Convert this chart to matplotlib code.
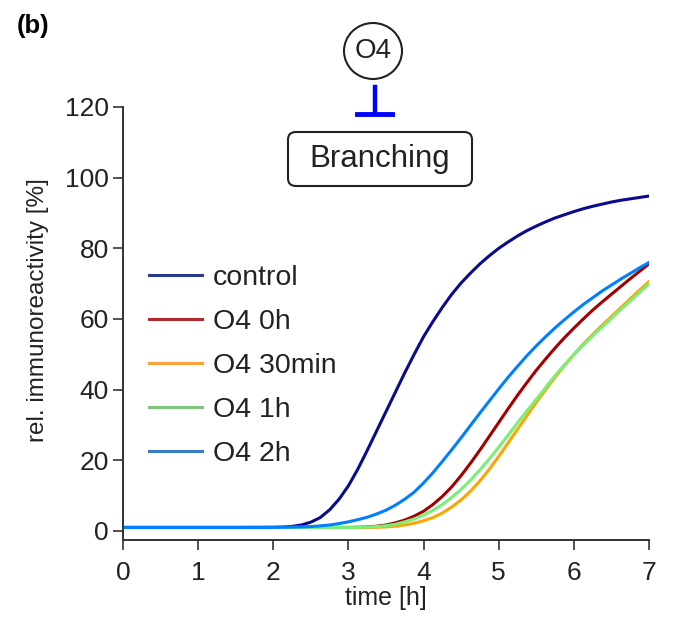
import numpy as np
import matplotlib
matplotlib.use('Agg')
import matplotlib.pyplot as plt
from matplotlib.lines import Line2D
from matplotlib.patches import Ellipse, FancyBboxPatch

plt.rcParams['font.family'] = ['Liberation Sans', 'DejaVu Sans']

# time grid [h]: flat part, then every 7.5 min from 2 h on
t = [0, 0.5, 1.0, 1.5, 2.0, 2.125, 2.25, 2.375, 2.5, 2.625, 2.75, 2.875,
     3.0, 3.125, 3.25, 3.375, 3.5, 3.625, 3.75, 3.875,
     4.0, 4.125, 4.25, 4.375, 4.5, 4.625, 4.75, 4.875,
     5.0, 5.125, 5.25, 5.375, 5.5, 5.625, 5.75, 5.875,
     6.0, 6.125, 6.25, 6.375, 6.5, 6.625, 6.75, 6.875, 7.0]

control = [1.0, 1.0, 1.0, 1.0, 1.05, 1.1, 1.3, 1.7, 2.5, 3.8, 6.0, 9.0,
           12.8, 17.5, 22.8, 28.3, 33.8, 39.3, 44.8, 50.0,
           55.0, 59.3, 63.3, 67.0, 70.2, 73.0, 75.6, 77.9,
           80.0, 81.8, 83.5, 85.0, 86.3, 87.5, 88.6, 89.5,
           90.4, 91.2, 91.9, 92.5, 93.1, 93.6, 94.0, 94.4, 94.8]
o4_0h = [1.0, 1.0, 1.0, 1.0, 1.0, 1.0, 1.0, 1.0, 1.0, 1.0, 1.0, 1.0,
         1.0, 1.05, 1.15, 1.35, 1.7, 2.3, 3.1, 4.2,
         5.6, 7.5, 9.8, 12.5, 15.7, 19.2, 22.9, 26.8,
         30.7, 34.6, 38.4, 42.0, 45.5, 48.7, 51.8, 54.7,
         57.4, 60.0, 62.5, 64.8, 67.0, 69.2, 71.4, 73.5, 75.6]
o4_30min = [1.0, 1.0, 1.0, 1.0, 1.0, 1.0, 1.0, 1.0, 1.0, 1.0, 1.0, 1.0,
            1.0, 1.0, 1.0, 1.05, 1.15, 1.35, 1.7, 2.2,
            2.9, 3.8, 5.1, 6.8, 8.8, 11.3, 14.2, 17.5,
            21.1, 24.9, 28.8, 32.6, 36.4, 40.0, 43.5, 46.8,
            50.0, 52.9, 55.6, 58.2, 60.7, 63.2, 65.7, 68.2, 70.6]
o4_1h = [1.0, 1.0, 1.0, 1.0, 1.0, 1.0, 1.0, 1.0, 1.0, 1.0, 1.0, 1.0,
         1.0, 1.05, 1.1, 1.25, 1.5, 1.9, 2.6, 3.4,
         4.5, 5.8, 7.5, 9.5, 11.8, 14.4, 17.3, 20.4,
         23.7, 27.1, 30.6, 34.0, 37.3, 40.6, 44.0, 47.0,
         49.9, 52.6, 55.2, 57.7, 60.2, 62.7, 65.1, 67.5, 69.9]
o4_2h = [1.0, 1.0, 1.0, 1.0, 1.0, 1.05, 1.1, 1.15, 1.25, 1.45, 1.7, 2.1,
         2.6, 3.2, 3.9, 4.8, 5.9, 7.3, 9.0, 11.0,
         13.6, 16.5, 19.7, 23.0, 26.4, 29.9, 33.4, 36.8,
         40.2, 43.5, 46.6, 49.6, 52.4, 55.0, 57.5, 59.8,
         62.0, 64.1, 66.0, 67.9, 69.6, 71.3, 72.9, 74.5, 76.0]

labels = ['control', 'O4 0h', 'O4 30min', 'O4 1h', 'O4 2h']
series = [control, o4_0h, o4_30min, o4_1h, o4_2h]
line_colors = ['#0a0a8c', '#a50000', '#ffa500', '#78f078', '#0080ff']
legend_colors = ['#2b3a8c', '#b2282d', '#f9a23c', '#7fc77f', '#3b7bc6']

fig = plt.figure(figsize=(6.73, 6.23), dpi=100)
ax = fig.add_axes([123 / 673, 1 - 540 / 623, 526 / 673, 433 / 623])

for y, c in zip(series, line_colors):
    ax.plot(t, y, color=c, lw=2.2)

ax.set_xlim(0, 7)
ax.set_ylim(-2.55, 120)
ax.set_xticks(range(0, 8))
ax.set_yticks(range(0, 121, 20))
ax.spines['top'].set_visible(False)
ax.spines['right'].set_visible(False)
for s in ['left', 'bottom']:
    ax.spines[s].set_color('#333333')
    ax.spines[s].set_linewidth(1.4)
ax.tick_params(direction='out', length=7, width=1.2, color='#333333',
               labelsize=19, labelcolor='#222222', pad=3)
ax.tick_params(axis='x', pad=8)
ax.set_xlabel('time [h]', fontsize=18, color='#222222', labelpad=1)
ax.set_ylabel('rel. immunoreactivity [%]', fontsize=17.5, color='#222222')
ax.yaxis.set_label_coords(-0.14, 0.531)

handles = [Line2D([], [], color=c, lw=2.2) for c in legend_colors]
ax.legend(handles, labels, loc='upper left', bbox_to_anchor=(0.0, 0.694),
          frameon=False, fontsize=20.5, handlelength=1.86, handletextpad=0.4,
          labelspacing=0.635, labelcolor='#222222')

# panel label
fig.text(33 / 673, 1 - 26 / 623, '(b)', fontsize=18.5, fontweight='bold',
         ha='center', va='center')

# O4 inhibits branching scheme
fig.patches.append(Ellipse((373 / 673, 1 - 51 / 623), 58 / 673, 56 / 623,
                           transform=fig.transFigure, fill=False,
                           ec='#222222', lw=1.5))
fig.text(373 / 673, 1 - 51 / 623, 'O4', fontsize=20, ha='center', va='center',
         color='#222222')
fig.add_artist(Line2D([375 / 673, 375 / 673], [1 - 87 / 623, 1 - 114 / 623],
                      transform=fig.transFigure, color='#0000ff', lw=3.2))
fig.add_artist(Line2D([357 / 673, 392 / 673], [1 - 114 / 623, 1 - 114 / 623],
                      transform=fig.transFigure, color='#0000ff', lw=3.5))
fig.patches.append(FancyBboxPatch((288 / 673, 1 - 186 / 623), 184 / 673, 54 / 623,
                                  boxstyle='round,pad=0,rounding_size=0.012',
                                  transform=fig.transFigure, fill=False,
                                  ec='#222222', lw=1.5))
fig.text(380 / 673, 1 - 159 / 623, 'Branching', fontsize=22.5, ha='center',
         va='center', color='#222222')

fig.savefig('out.png', dpi=100)
